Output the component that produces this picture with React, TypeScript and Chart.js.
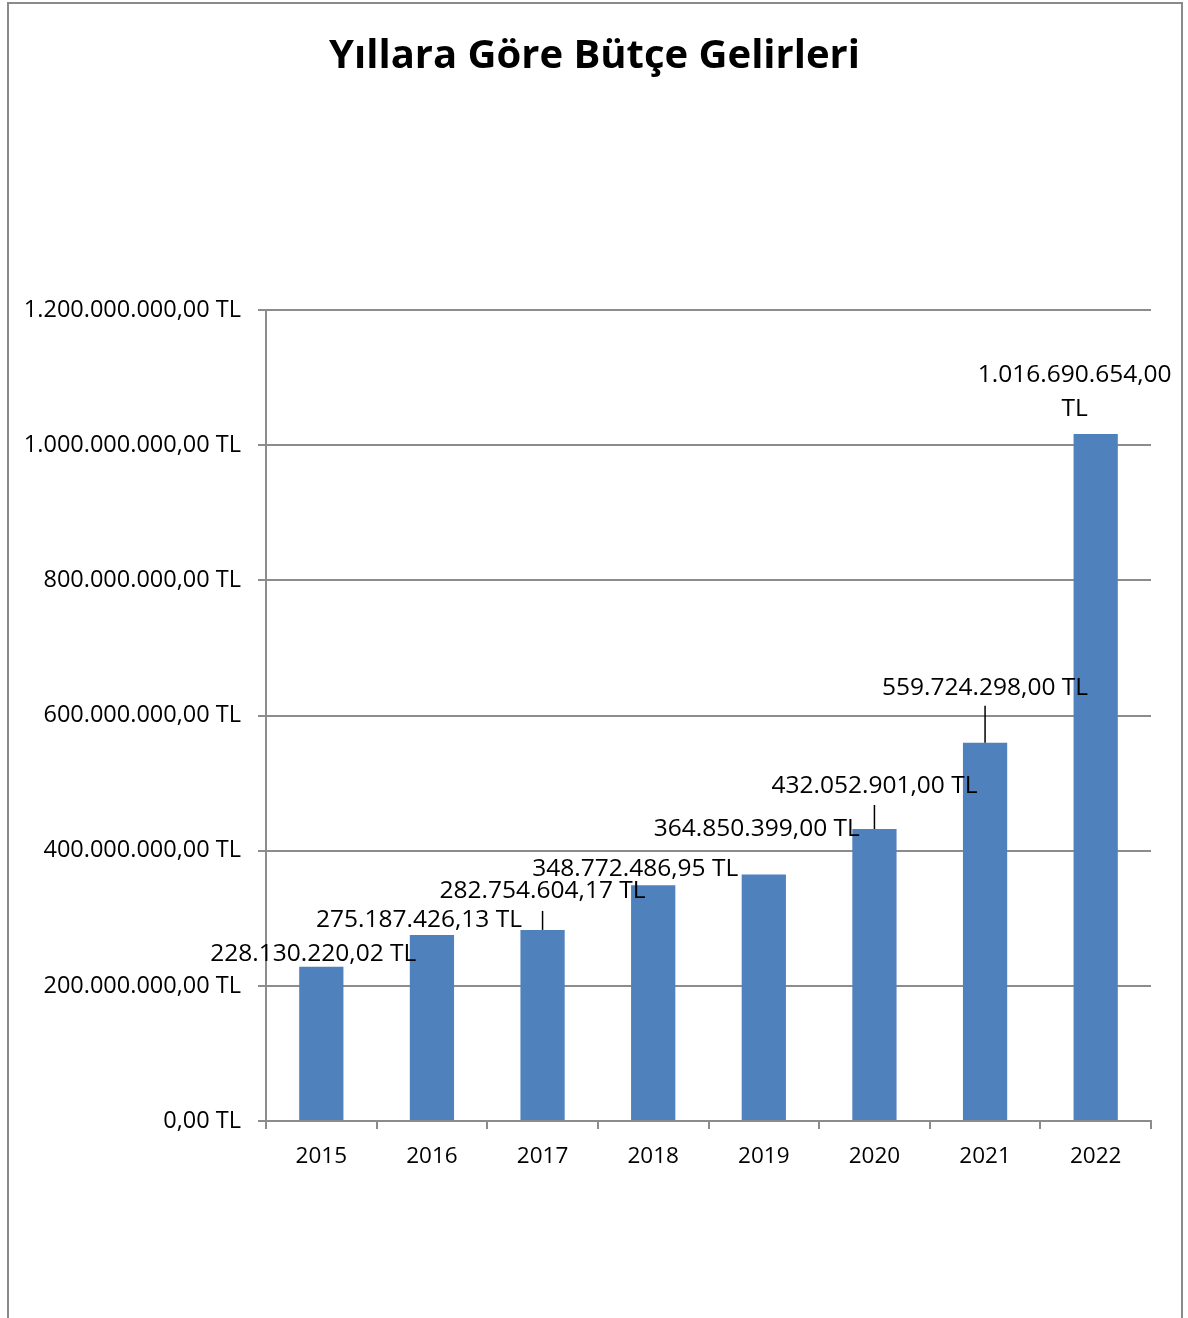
import React, { useEffect, useRef } from "react";
import { Chart, registerables } from "chart.js";

Chart.register(...registerables);

const chartTitle = "Yıllara Göre Bütçe Gelirleri";
const years = ["2015", "2016", "2017", "2018", "2019", "2020", "2021", "2022"];
const revenues = [
  228130220.02, 275187426.13, 282754604.17, 348772486.95, 364850399.0,
  432052901.0, 559724298.0, 1016690654.0,
];
const yMin = 0;
const yMax = 1200000000;
const yStep = 200000000;

// label placement relative to the bar top (pixels) – style, not data
const labelOffsets: [number, number][] = [
  [-8, -15], [-13, -17], [0, -41], [-18, -18], [-7, -47], [0, -45], [0, -57], [-21, -61],
];
const leaderLengths = [0, 0, 19, 0, 0, 24, 37, 0];
const labelWrap = [false, false, false, false, false, false, false, true];

const FONT = '"Open Sans", "Liberation Sans", sans-serif';
const GRID = "#8c8c8c";
const BAR = "#4F81BD";

function formatTL(v: number): string {
  const cents = Math.round(v * 100);
  const intPart = Math.floor(cents / 100);
  const dec = String(cents % 100).padStart(2, "0");
  const intStr = String(intPart).replace(/\B(?=(\d{3})+(?!\d))/g, ".");
  return intStr + "," + dec + " TL";
}

const decorPlugin = {
  id: "decor",
  beforeDraw(chart: any) {
    const ctx = chart.ctx;
    ctx.save();
    ctx.strokeStyle = "#8a8a8a";
    ctx.lineWidth = 2;
    ctx.beginPath();
    ctx.moveTo(8, 1330);
    ctx.lineTo(8, 3);
    ctx.lineTo(1182, 3);
    ctx.lineTo(1182, 1330);
    ctx.stroke();
    ctx.restore();
  },
  afterDraw(chart: any) {
    const ctx = chart.ctx;
    ctx.save();
    ctx.font = "bold 40px " + FONT;
    ctx.fillStyle = "#000";
    ctx.textAlign = "center";
    ctx.textBaseline = "alphabetic";
    ctx.fillText(chartTitle, 594.5, 68);
    ctx.restore();
  },
  afterDatasetsDraw(chart: any) {
    const ctx = chart.ctx;
    const meta = chart.getDatasetMeta(0);
    const fs = 24.5;
    ctx.save();
    ctx.font = fs + "px " + FONT;
    ctx.fillStyle = "#000";
    ctx.textAlign = "center";
    ctx.textBaseline = "alphabetic";
    meta.data.forEach((bar: any, i: number) => {
      const { x, y } = bar.getProps(["x", "y"], true);
      const [dx, dy] = labelOffsets[i];
      const text = formatTL(revenues[i]);
      let lines = [text];
      if (labelWrap[i]) {
        const k = text.lastIndexOf(" ");
        lines = [text.slice(0, k), text.slice(k + 1)];
      }
      const lh = 34;
      lines.forEach((ln, j) => {
        ctx.fillText(ln, x + dx, y + dy + j * lh + fs * 0.36);
      });
      if (leaderLengths[i] > 0) {
        ctx.strokeStyle = "#000";
        ctx.lineWidth = 1.5;
        ctx.beginPath();
        ctx.moveTo(x, y - leaderLengths[i]);
        ctx.lineTo(x, y);
        ctx.stroke();
      }
    });
    ctx.restore();
  },
};

export default function App() {
  const ref = useRef<HTMLCanvasElement | null>(null);
  useEffect(() => {
    if (!ref.current) return;
    const chart = new Chart(ref.current, {
      type: "bar",
      data: {
        labels: years,
        datasets: [
          {
            data: revenues,
            backgroundColor: BAR,
            barPercentage: 0.4,
            categoryPercentage: 1,
          },
        ],
      },
      options: {
        responsive: false,
        animation: false,
        layout: { padding: { left: 0, right: 37, top: 310, bottom: 137 } },
        plugins: {
          legend: { display: false },
          title: { display: false },
          tooltip: { enabled: false },
        },
        scales: {
          x: {
            offset: true,
            grid: {
              offset: true,
              drawOnChartArea: false,
              drawTicks: true,
              tickLength: 8,
              color: GRID,
              lineWidth: 2,
            },
            border: { display: true, color: GRID, width: 2 },
            ticks: {
              color: "#000",
              font: { family: FONT, size: 22.5 },
              padding: 14,
              maxRotation: 0,
            },
            afterFit(scale: any) {
              scale.height = 60;
            },
          },
          y: {
            min: yMin,
            max: yMax,
            grid: {
              color: GRID,
              lineWidth: 2,
              drawTicks: true,
              tickLength: 8,
            },
            border: { display: true, color: GRID, width: 2 },
            ticks: {
              stepSize: yStep,
              color: "#000",
              font: { family: FONT, size: 23.5 },
              padding: 17,
              callback: (v: any) => formatTL(Number(v)),
            },
            afterFit(scale: any) {
              scale.width = 266;
            },
          },
        },
      },
      plugins: [decorPlugin],
    });
    return () => chart.destroy();
  }, []);
  return (
    <div style={{ position: "absolute", left: 0, top: 0, width: 1188, height: 1318, background: "#fff" }}>
      <canvas ref={ref} width={1188} height={1318} style={{ display: "block", width: 1188, height: 1318 }} />
    </div>
  );
}
